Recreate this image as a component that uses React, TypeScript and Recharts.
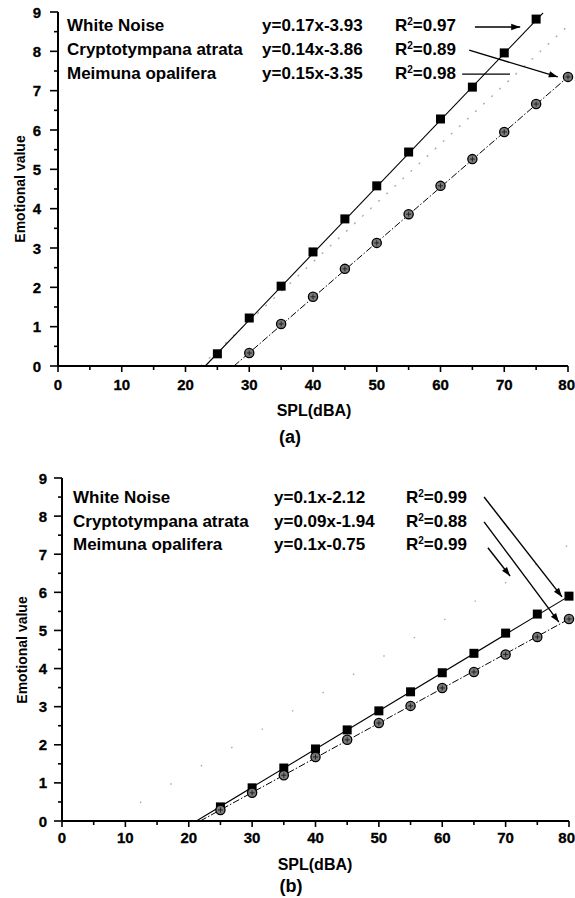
import React from "react";
import { ComposedChart, Line, Scatter, XAxis, YAxis, ReferenceLine } from "recharts";

const FONT = '"Liberation Sans", Arial, sans-serif';

const X_TICKS = [0, 5, 10, 15, 20, 25, 30, 35, 40, 45, 50, 55, 60, 65, 70, 75, 80];
const Y_TICKS = [0, 0.5, 1, 1.5, 2, 2.5, 3, 3.5, 4, 4.5, 5, 5.5, 6, 6.5, 7, 7.5, 8, 8.5, 9];

const SERIES = ["White Noise", "Cryptotympana atrata", "Meimuna opalifera"];

// panel (a)
const EQ_A = ["y=0.17x-3.93", "y=0.14x-3.86", "y=0.15x-3.35"];
const R2_A = ["0.97", "0.89", "0.98"];
const splWhiteA = [25, 30, 35, 40, 45, 50, 55, 60, 65, 70, 75];
const whiteA = [0.31, 1.22, 2.03, 2.9, 3.74, 4.58, 5.44, 6.28, 7.09, 7.96, 8.82];
const splCryptA = [30, 35, 40, 45, 50, 55, 60, 65, 70, 75, 80];
const cryptA = [0.33, 1.07, 1.76, 2.47, 3.13, 3.86, 4.58, 5.26, 5.95, 6.66, 7.35];
const whiteFitA = { x: [23.1, 76.1], y: [0, 8.98] };
const cryptFitA = { x: [27.6, 80], y: [0, 7.35] };
const meimunaFitA = { x: [22.4, 80], y: [0, 8.65] };
const arrowsA = [
  { x: [65.4, 72.5], y: [8.62, 8.62], head: true },
  { x: [64.5, 78.4], y: [8.03, 7.35], head: true },
  { x: [63.4, 70.9], y: [7.42, 7.42], head: false },
];

// panel (b)
const EQ_B = ["y=0.1x-2.12", "y=0.09x-1.94", "y=0.1x-0.75"];
const R2_B = ["0.99", "0.88", "0.99"];
const splB = [25, 30, 35, 40, 45, 50, 55, 60, 65, 70, 75, 80];
const whiteB = [0.37, 0.87, 1.39, 1.89, 2.39, 2.89, 3.39, 3.89, 4.4, 4.93, 5.43, 5.9];
const cryptB = [0.29, 0.74, 1.2, 1.68, 2.13, 2.57, 3.02, 3.49, 3.91, 4.37, 4.83, 5.3];
const whiteFitB = { x: [21.2, 80], y: [0, 5.9] };
const cryptFitB = { x: [21.8, 80], y: [0, 5.3] };
const meimunaFitB = { x: [7.5, 80], y: [0, 7.25] };
const arrowsB = [
  { x: [66.6, 78.9], y: [8.5, 5.88], head: true },
  { x: [66.6, 78.4], y: [7.85, 5.22], head: true },
  { x: [67.2, 70.7], y: [7.17, 6.43], head: true },
];

const pts = (xs: number[], ys: number[]) => xs.map((x, i) => ({ x, y: ys[i] }));

const makeXTick = (labelDy: number) => (p: any) => {
  const { x, y, payload } = p;
  const major = payload.value % 10 === 0;
  const last = payload.value === 80;
  return (
    <g>
      <line x1={x} x2={x} y1={y} y2={y + (major ? 6 : 4)} stroke="#000" strokeWidth={1.6} />
      {major && (
        <text x={last ? 575 : x} y={y + labelDy} textAnchor={last ? "end" : "middle"}
          dominantBaseline="central" fontFamily={FONT} fontWeight={700} fontSize={15}
          fill="#000" stroke="#000" strokeWidth={0.3}>
          {payload.value}
        </text>
      )}
    </g>
  );
};

const makeYTick = (labelDx: number) => (p: any) => {
  const { x, y, payload } = p;
  const major = payload.value % 1 === 0;
  return (
    <g>
      <line x1={x} x2={x - (major ? 8 : 4)} y1={y} y2={y} stroke="#000" strokeWidth={1.6} />
      {major && (
        <text x={x - labelDx} y={y} textAnchor="end" dominantBaseline="central"
          fontFamily={FONT} fontWeight={700} fontSize={15} fill="#000" stroke="#000" strokeWidth={0.3}>
          {payload.value}
        </text>
      )}
    </g>
  );
};

const Square = (p: any) => <rect x={p.cx - 4.5} y={p.cy - 4.5} width={9} height={9} fill="#000" />;
const Circle = (p: any) => (
  <g>
    <circle cx={p.cx} cy={p.cy} r={4.6} fill="#7a7a7a" stroke="#000" strokeWidth={1.3} />
    <path d={`M${p.cx - 2.5},${p.cy}h5M${p.cx},${p.cy - 2.5}v5`} stroke="#222" strokeWidth={1} />
  </g>
);

const arrowShape = (head: boolean) => (p: any) => {
  const { x1, y1, x2, y2 } = p;
  const a = Math.atan2(y2 - y1, x2 - x1);
  const L = 9, W = 3.2;
  const bx = x2 - L * Math.cos(a), by = y2 - L * Math.sin(a);
  const tri = `${x2},${y2} ${bx - W * Math.sin(a)},${by + W * Math.cos(a)} ${bx + W * Math.sin(a)},${by - W * Math.cos(a)}`;
  return (
    <g>
      <line x1={x1} y1={y1} x2={x2} y2={y2} stroke="#000" strokeWidth={1.4} />
      {head && <polygon points={tri} fill="#000" />}
    </g>
  );
};

type PanelProps = {
  top: number;
  marginTop: number;
  marginRight: number;
  yWidth: number;
  xHeight: number;
  xLabelDy: number;
  yLabelDx: number;
  white: { x: number; y: number }[];
  crypt: { x: number; y: number }[];
  whiteFit: { x: number[]; y: number[] };
  cryptFit: { x: number[]; y: number[] };
  meimunaFit: { x: number[]; y: number[] };
  meimunaDash: string;
  arrows: { x: number[]; y: number[]; head: boolean }[];
};

function Panel(props: PanelProps) {
  const { top, marginTop, marginRight, yWidth, xHeight } = props;
  return (
    <div style={{ position: "absolute", left: 0, top }}>
      <ComposedChart width={575} height={400}
        margin={{ top: marginTop, right: marginRight, left: 0, bottom: 0 }}>
        <XAxis type="number" dataKey="x" domain={[0, 80]} ticks={X_TICKS} interval={0}
          height={xHeight} tickSize={0} tickMargin={0} tickLine={false}
          axisLine={{ stroke: "#000", strokeWidth: 2 }} tick={makeXTick(props.xLabelDy)} />
        <YAxis type="number" dataKey="y" domain={[0, 9]} ticks={Y_TICKS} interval={0}
          width={yWidth} tickSize={0} tickMargin={0} tickLine={false}
          axisLine={{ stroke: "#000", strokeWidth: 2 }} tick={makeYTick(props.yLabelDx)} />
        <Line data={pts(props.meimunaFit.x, props.meimunaFit.y)} dataKey="y" type="linear"
          stroke="#a8a8a8" strokeWidth={1.3} strokeDasharray={props.meimunaDash}
          dot={false} activeDot={false} isAnimationActive={false} />
        <Line data={pts(props.whiteFit.x, props.whiteFit.y)} dataKey="y" type="linear"
          stroke="#000" strokeWidth={1.1} dot={false} activeDot={false} isAnimationActive={false} />
        <Line data={pts(props.cryptFit.x, props.cryptFit.y)} dataKey="y" type="linear"
          stroke="#000" strokeWidth={1} strokeDasharray="7 2 1.5 2" dot={false} activeDot={false}
          isAnimationActive={false} />
        <Scatter data={props.white} shape={Square} isAnimationActive={false} />
        <Scatter data={props.crypt} shape={Circle} isAnimationActive={false} />
        {props.arrows.map((a, i) => (
          <ReferenceLine key={i} segment={[{ x: a.x[0], y: a.y[0] }, { x: a.x[1], y: a.y[1] }]}
            shape={arrowShape(a.head)} />
        ))}
      </ComposedChart>
    </div>
  );
}

const textStyle: React.CSSProperties = {
  position: "absolute",
  fontFamily: FONT,
  fontWeight: "bold",
  color: "#000",
  whiteSpace: "nowrap",
  lineHeight: "20px",
};

function Legend({ rows, eqs, r2s, nameX, eqX, r2X }: {
  rows: number[]; eqs: string[]; r2s: string[]; nameX: number; eqX: number; r2X: number;
}) {
  return (
    <>
      {rows.map((cy, i) => (
        <React.Fragment key={i}>
          <div style={{ ...textStyle, left: nameX, top: cy - 10, fontSize: 17 }}>{SERIES[i]}</div>
          <div style={{ ...textStyle, left: eqX, top: cy - 10, fontSize: 17 }}>{eqs[i]}</div>
          <div style={{ ...textStyle, left: r2X, top: cy - 10, fontSize: 17 }}>
            R<sup style={{ fontSize: 10, verticalAlign: "6px", lineHeight: 0 }}>2</sup>={r2s[i]}
          </div>
        </React.Fragment>
      ))}
    </>
  );
}

function Centered({ x, y, size, rotate, children }: any) {
  return (
    <div style={{
      ...textStyle, left: x, top: y, fontSize: size,
      transform: `translate(-50%, -50%)${rotate ? " rotate(-90deg)" : ""}`,
    }}>
      {children}
    </div>
  );
}

export default function App() {
  return (
    <div style={{ position: "absolute", left: 0, top: 0, width: 575, height: 898, background: "#fff" }}>
      <Panel top={0} marginTop={12} marginRight={7} yWidth={58} xHeight={34} xLabelDy={18} yLabelDx={17}
        white={pts(splWhiteA, whiteA)} crypt={pts(splCryptA, cryptA)}
        whiteFit={whiteFitA} cryptFit={cryptFitA} meimunaFit={meimunaFitA} meimunaDash="2 9"
        arrows={arrowsA} />
      <Legend rows={[26, 50, 74]} eqs={EQ_A} r2s={R2_A} nameX={67} eqX={262} r2X={395} />
      <Centered x={20} y={189} size={14} rotate>Emotional value</Centered>
      <Centered x={314} y={411} size={16}>SPL(dBA)</Centered>
      <Centered x={290} y={437} size={18}>(a)</Centered>

      <Panel top={450} marginTop={28} marginRight={6} yWidth={62} xHeight={29} xLabelDy={16} yLabelDx={15}
        white={pts(splB, whiteB)} crypt={pts(splB, cryptB)}
        whiteFit={whiteFitB} cryptFit={cryptFitB} meimunaFit={meimunaFitB} meimunaDash="1.5 34"
        arrows={arrowsB} />
      <Legend rows={[498, 522, 545]} eqs={EQ_B} r2s={R2_B} nameX={73} eqX={274} r2X={406} />
      <Centered x={22} y={650} size={14} rotate>Emotional value</Centered>
      <Centered x={315} y={865} size={16}>SPL(dBA)</Centered>
      <Centered x={291} y={886} size={18}>(b)</Centered>
    </div>
  );
}
